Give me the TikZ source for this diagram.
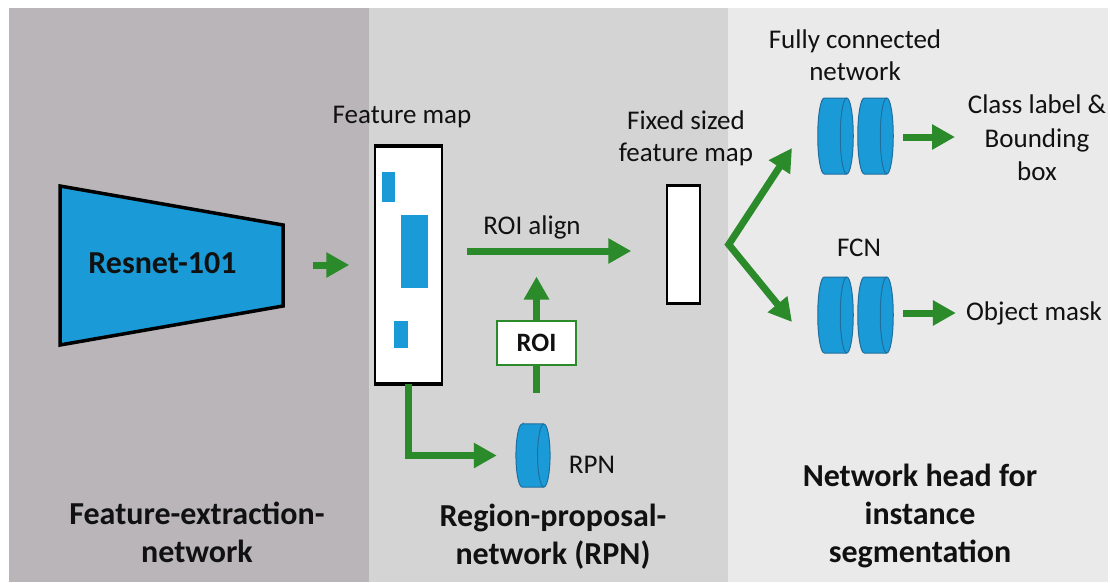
\documentclass[tikz,border=0pt]{standalone}
\usepackage{fontspec}
\setmainfont{Carlito}
\usetikzlibrary{arrows.meta}
\definecolor{panelA}{HTML}{B9B5B8}
\definecolor{panelB}{HTML}{D4D4D4}
\definecolor{panelC}{HTML}{EAEAEA}
\definecolor{netblue}{HTML}{1A9BD7}
\definecolor{discedge}{HTML}{1F6E9E}
\definecolor{flow}{HTML}{2B8A2A}
\definecolor{ink}{HTML}{111111}
\tikzset{
  lbl/.style={font=\fontsize{27}{32}\selectfont, text=ink, inner sep=0pt, align=center},
  ttl/.style={font=\fontsize{32}{38}\selectfont\bfseries, text=ink, inner sep=0pt, align=center},
  arr/.style={draw=flow, line width=7pt, -{Triangle[length=23pt,width=24pt]}},
  flowline/.style={draw=flow, line width=7pt},
  mapbox/.style={draw=black, line width=1.5pt, fill=white, inner sep=0pt},
  discslot/.style={inner sep=0pt, minimum width=35.5pt, minimum height=76pt},
  disc/.pic={
    \path[draw=discedge, line width=1pt, fill=netblue]
      (-11.25,-38) -- (11.25,-38)
      .. controls (14.84,-38) and (17.75,-21) .. (17.75,0)
      .. controls (17.75,21) and (14.84,38) .. (11.25,38)
      -- (-11.25,38)
      .. controls (-14.84,38) and (-17.75,21) .. (-17.75,0)
      .. controls (-17.75,-21) and (-14.84,-38) .. cycle;
    \path[draw=discedge, line width=1pt]
      (11.25,-38) .. controls (7.66,-38) and (4.75,-21) .. (4.75,0)
      .. controls (4.75,21) and (7.66,38) .. (11.25,38);
  }
}
\begin{document}
\begin{tikzpicture}[x=1pt,y=-1pt]
\useasboundingbox (0,0) rectangle (1110,582);
\fill[white] (0,0) rectangle (1110,582);

% three stage panels
\fill[panelA] (9,8) rectangle (369,582);
\fill[panelB] (369,8) rectangle (728,582);
\fill[panelC] (728,8) rectangle (1108,582);

% backbone
\draw[line width=3.5pt, fill=netblue] (60,186) -- (283,225) -- (283,306) -- (60,345) -- cycle;
\node[ttl] (resnet) at (162.5,263.5) {Resnet-101};
\coordinate (backOut) at (313,265);

% feature map with proposals
\node[mapbox, minimum width=67pt, minimum height=236pt] (fm) at (408.5,265) {};
\draw[line width=4pt] (fm.north west) -- (fm.north east);
\draw[line width=4pt] (fm.south west) -- (fm.south east);
\fill[netblue] (382,172) rectangle (395,202);
\fill[netblue] (401,215) rectangle (428,288);
\fill[netblue] (394,321) rectangle (408,348);
\node[lbl] (fmlbl) at (402,117) {Feature map};

\draw[arr] (backOut) -- ([xshift=-25]fm.west |- backOut);

% fixed sized feature map
\node[mapbox, minimum width=33pt, minimum height=117pt] (fixed) at (683.5,244.5) {};
\draw[line width=3pt] (fixed.north west) -- (fixed.north east);
\draw[line width=3pt] (fixed.south west) -- (fixed.south east);
\node[lbl] (fixedlbl) at (686,138.5) {Fixed sized\\feature map};

% ROI align
\coordinate (alignS) at (467,251);
\draw[arr] (alignS) -- ([xshift=-35]fixed.west |- alignS);
\node[lbl] (alignlbl) at (532,227) {ROI align};

% region proposal network
\node[discslot, minimum width=34pt, minimum height=63pt] (rpn) at (533,455.5) {};
\pic[xscale=0.96, yscale=0.83] at (rpn) {disc};
\node[lbl] (rpnlbl) at (592,465) {RPN};
\draw[arr] (fm.south) |- ([xshift=-19]rpn.west);

\node[draw=flow, line width=2pt, fill=white, minimum width=79pt, minimum height=44pt, inner sep=0pt,
      font=\fontsize{26.5}{30}\selectfont\bfseries, text=ink] (roi) at (536.5,342.5) {ROI};
\draw[flowline] ([yshift=-27]roi.south) -- (roi.south);
\draw[arr] (roi.north) -- ([yshift=43]roi.north);

% network head
\node[discslot] (fc1) at (835.5,136) {};
\node[discslot] (fc2) at (875.5,136) {};
\node[discslot] (fcn1) at (835.5,315) {};
\node[discslot] (fcn2) at (875.5,315) {};
\pic at (fc1) {disc};
\pic at (fc2) {disc};
\pic at (fcn1) {disc};
\pic at (fcn2) {disc};
\node[lbl] (fclbl) at (855,55) {Fully connected\\network};
\node[lbl] (fcnlbl) at (859,248) {FCN};

\coordinate (fork) at ([xshift=28]fixed.east);
\coordinate (upEnd) at (792,148);
\coordinate (downEnd) at (792,322);
\draw[draw=flow, line width=7pt, line join=miter,
      {Triangle[length=23pt,width=24pt]}-{Triangle[length=23pt,width=24pt]}]
  (upEnd) -- (fork) -- (downEnd);

\node[lbl, font=\fontsize{27}{33.5}\selectfont] (cls) at (1037,138) {Class label \&\\Bounding\\box};
\node[lbl] (mask) at (1034,313) {Object mask};
\draw[arr] ([xshift=10]fc2.east |- 0,137) -- (955,137);
\draw[arr] ([xshift=10]fcn2.east |- 0,313) -- ([xshift=-10]mask.west);

% stage titles
\node[ttl] (t1) at (197,532) {Feature-extraction-\\network};
\node[ttl] (t2) at (553,537) {Region-proposal-\\network (RPN)};
\node[ttl] (t3) at (920,516) {Network head for\\instance\\segmentation};
\end{tikzpicture}
\end{document}
